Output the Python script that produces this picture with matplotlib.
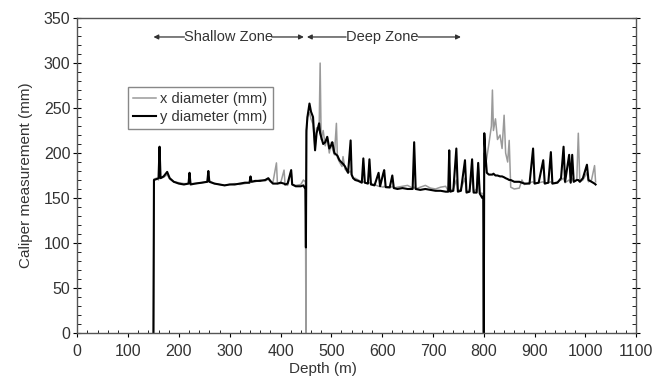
import matplotlib.pyplot as plt
from matplotlib.ticker import MultipleLocator

plt.rcParams['font.family'] = ['Liberation Sans', 'DejaVu Sans']

# depth (m), x diameter (mm), y diameter (mm)
depth = [150, 151, 156, 160, 162, 164, 170, 177, 182, 190, 200, 210, 219, 221, 223,
         232, 245, 256, 258, 260, 270, 280, 290, 300, 310, 320, 330, 339, 341, 343,
         350, 360, 370, 376, 380, 385, 392, 394, 400, 407, 409, 414, 421, 423, 430,
         440, 445, 449, 450,
         451, 453, 457, 460, 464, 468, 471, 476, 478, 480, 484, 488, 492, 496, 500,
         502, 506, 510, 512, 516, 521, 523, 527, 533, 538, 540, 543, 547, 553, 560,
         563, 566, 572, 575, 578, 585, 593, 596, 602, 604, 607, 615, 620, 623, 630,
         640, 650, 660, 663, 666, 675, 685, 695, 705, 715, 725, 730, 732, 734, 740,
         746, 749, 755, 763, 766, 772, 777, 780, 786, 789, 792, 797, 799, 800,
         801, 803, 806, 810, 815, 817, 819, 823, 827, 832, 836, 840, 843, 847, 850,
         853, 860, 870, 875, 880, 885, 890, 897, 900, 908, 917, 920, 927, 932, 935,
         945, 952, 957, 960, 968, 971, 974, 977, 983, 986, 989, 995, 1003, 1006, 1012,
         1018, 1020]

x_diam = [0, 171, 172, 170, 176, 172, 173, 176, 171, 168, 167, 166, 166, 176, 166,
          166, 167, 168, 178, 169, 166, 165, 164, 165, 166, 165, 166, 167, 173, 168,
          168, 170, 169, 171, 168, 167, 189, 166, 166, 181, 165, 164, 180, 165, 164,
          165, 170, 168, 0,
          222, 240, 245, 238, 232, 205, 228, 225, 300, 215, 225, 208, 218, 200, 212,
          205, 198, 233, 195, 190, 185, 196, 182, 178, 180, 175, 172, 172, 170, 168,
          168, 167, 166, 167, 166, 165, 163, 163, 162, 163, 162, 161, 163, 161, 162,
          163, 164, 161, 162, 160, 162, 164, 161, 160, 162, 163, 158, 165, 158, 160,
          170, 158, 160, 172, 157, 159, 175, 157, 160, 188, 156, 155, 155, 0,
          200, 185, 195, 210, 230, 270, 225, 238, 215, 220, 205, 242, 200, 190, 214,
          162, 160, 161, 170, 165, 166, 167, 168, 166, 167, 168, 166, 167, 168, 166,
          168, 170, 172, 167, 170, 167, 172, 168, 170, 222, 168, 170, 178, 168, 170,
          186, 168]

y_diam = [0, 170, 171, 172, 207, 172, 174, 179, 172, 168, 166, 165, 166, 178, 165,
          166, 167, 168, 180, 168, 166, 165, 164, 165, 165, 166, 167, 167, 174, 168,
          169, 169, 170, 172, 169, 166, 166, 166, 167, 166, 165, 166, 181, 165, 163,
          163, 164, 160, 95,
          225, 240, 255, 246, 240, 203, 222, 233, 222, 218, 210, 212, 218, 205, 209,
          212, 200, 198, 197, 192, 189, 188, 185, 178, 214, 176, 172, 170, 169, 167,
          194, 167, 166, 193, 165, 164, 178, 163, 177, 181, 162, 162, 175, 161, 160,
          161, 160, 160, 212, 160, 159, 160, 159, 158, 158, 157, 157, 203, 157, 158,
          205, 157, 158, 192, 156, 157, 193, 156, 156, 189, 155, 150, 152, 0,
          222, 200, 178, 176, 176, 176, 177, 175, 175, 174, 174, 173, 172, 171, 170,
          170, 168, 168, 167, 166, 166, 166, 205, 166, 167, 192, 166, 167, 201, 166,
          167, 172, 207, 168, 198, 167, 198, 168, 170, 170, 168, 172, 187, 170, 168,
          166, 165]

fig = plt.figure(figsize=(6.6, 3.77), dpi=100)
ax = fig.add_axes([0.117, 0.117, 0.847, 0.835])

ax.plot(depth, x_diam, color='#9a9a9a', lw=1.1, label='x diameter (mm)')
ax.plot(depth, y_diam, color='black', lw=1.5, label='y diameter (mm)')

ax.set_xlim(0, 1100)
ax.set_ylim(0, 350)
ax.xaxis.set_major_locator(MultipleLocator(100))
ax.xaxis.set_minor_locator(MultipleLocator(20))
ax.yaxis.set_major_locator(MultipleLocator(50))
ax.yaxis.set_minor_locator(MultipleLocator(10))

ax.tick_params(axis='y', which='major', direction='inout', length=6, width=0.8,
               right=True, labelsize=11.5, labelcolor='#333333', pad=2)
ax.tick_params(axis='y', which='minor', direction='in', length=3, width=0.6, right=True)
ax.tick_params(axis='x', which='major', direction='out', length=3, width=0.8,
               labelsize=11.5, labelcolor='#333333', pad=5)
ax.tick_params(axis='x', which='minor', direction='in', length=2.5, width=0.6)
for s in ax.spines.values():
    s.set_color('#555555')
    s.set_linewidth(1.0)

ax.set_xlabel('Depth (m)', fontsize=11, color='#333333', va='top')
ax.xaxis.set_label_coords(0.44, -0.093)
ax.set_ylabel('Caliper measurement (mm)', fontsize=11, color='#333333', labelpad=8)

leg = ax.legend(loc='upper left', bbox_to_anchor=(0.09, 0.78), fontsize=10.5,
                fancybox=False, framealpha=1, edgecolor='#888888',
                handlelength=1.6, handletextpad=0.3, borderpad=0.35,
                labelspacing=0.25, borderaxespad=0)
for t in leg.get_texts():
    t.set_color('#333333')

# zone labels
arr = dict(arrowstyle='-|>', color='#333333', lw=0.9, shrinkA=0, shrinkB=0,
           mutation_scale=7)
ax.text(297, 329, 'Shallow Zone', ha='center', va='center', fontsize=10.5, color='#333333')
ax.annotate('', xy=(150, 329), xytext=(211, 329), arrowprops=arr)
ax.annotate('', xy=(446, 329), xytext=(383, 329), arrowprops=arr)
ax.text(600, 329, 'Deep Zone', ha='center', va='center', fontsize=10.5, color='#333333')
ax.annotate('', xy=(452, 329), xytext=(529, 329), arrowprops=arr)
ax.annotate('', xy=(755, 329), xytext=(671, 329), arrowprops=arr)

fig.savefig('out.png', dpi=100)
